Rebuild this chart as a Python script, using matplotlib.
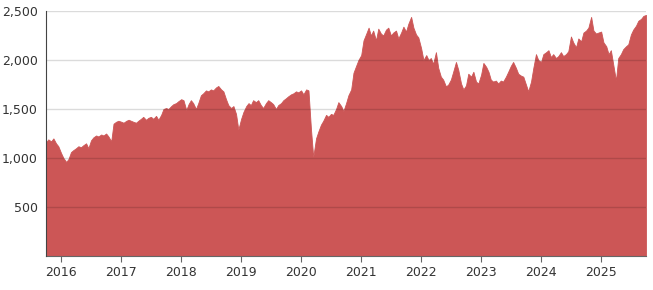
import numpy as np
import pandas as pd
import matplotlib
matplotlib.use("Agg")
import matplotlib.pyplot as plt
import matplotlib.dates as mdates
from matplotlib.ticker import FuncFormatter

# semi-monthly readings, Oct 2015 .. Oct 2025
dates = pd.date_range("2015-10-01", "2025-10-01", freq="SMS")

v2015 = [1160, 1190, 1170, 1200, 1150, 1120]
v2016 = [1050, 1000, 960, 990, 1060, 1080, 1100, 1120, 1110, 1130, 1150, 1100,
         1180, 1210, 1230, 1220, 1240, 1230, 1250, 1220, 1170, 1350, 1370, 1380]
v2017 = [1370, 1360, 1380, 1390, 1380, 1370, 1360, 1380, 1400, 1420, 1390, 1410,
         1420, 1400, 1430, 1390, 1440, 1500, 1510, 1500, 1530, 1550, 1560, 1580]
v2018 = [1600, 1590, 1490, 1550, 1590, 1560, 1500, 1560, 1640, 1660, 1690, 1680,
         1700, 1690, 1720, 1735, 1700, 1680, 1600, 1540, 1510, 1530, 1450, 1290]
v2019 = [1400, 1470, 1530, 1560, 1540, 1590, 1570, 1590, 1540, 1510, 1560, 1590,
         1570, 1550, 1500, 1540, 1560, 1590, 1610, 1630, 1650, 1660, 1680, 1670]
v2020 = [1690, 1650, 1700, 1690, 1300, 1010, 1200, 1270, 1340, 1380, 1440, 1420,
         1450, 1440, 1500, 1570, 1530, 1480, 1560, 1640, 1700, 1870, 1940, 2000]
v2021 = [2050, 2200, 2270, 2330, 2250, 2300, 2200, 2320, 2270, 2250, 2310, 2330,
         2250, 2280, 2300, 2220, 2280, 2340, 2290, 2370, 2440, 2330, 2260, 2230]
v2022 = [2120, 2000, 2050, 2000, 2020, 1960, 2080, 1920, 1830, 1800, 1730, 1750,
         1800, 1880, 1980, 1900, 1760, 1700, 1740, 1860, 1830, 1880, 1780, 1760]
v2023 = [1850, 1970, 1930, 1880, 1800, 1780, 1790, 1760, 1790, 1780, 1830, 1880,
         1940, 1980, 1920, 1860, 1840, 1830, 1750, 1680, 1780, 1920, 2060, 2000]
v2024 = [1980, 2060, 2080, 2100, 2030, 2060, 2020, 2040, 2080, 2040, 2060, 2090,
         2240, 2180, 2130, 2220, 2190, 2280, 2300, 2330, 2440, 2300, 2270, 2280]
v2025 = [2290, 2180, 2140, 2060, 2100, 1960, 1790, 2020, 2060, 2110, 2140, 2160,
         2260, 2310, 2350, 2400, 2420, 2450, 2460]

values = v2015 + v2016 + v2017 + v2018 + v2019 + v2020 + v2021 + v2022 + v2023 + v2024 + v2025
yticks = [500, 1000, 1500, 2000, 2500]

fig = plt.figure(figsize=(6.53, 2.90), dpi=100)
ax = fig.add_axes([46 / 653, 34 / 290, 600 / 653, 245 / 290])

ax.fill_between(dates, values, 0, color="#cc5656", lw=0.6, edgecolor="#cc5656", zorder=2)

ax.set_xlim(pd.Timestamp("2015-10-01"), pd.Timestamp("2025-10-01"))
ax.set_ylim(0, 2500)
ax.set_yticks(yticks)
ax.yaxis.set_major_formatter(FuncFormatter(lambda v, p: f"{int(v):,}"))
ax.xaxis.set_major_locator(mdates.YearLocator())
ax.xaxis.set_major_formatter(mdates.DateFormatter("%Y"))

for y in yticks:
    ax.axhline(y, color="black", alpha=0.14, lw=1, zorder=3)

for s in ["top", "right"]:
    ax.spines[s].set_visible(False)
ax.spines["left"].set_color("#444444")
ax.spines["bottom"].set_color("#666666")
ax.spines["left"].set_zorder(4)
ax.tick_params(axis="y", length=0, pad=6, labelsize=9, labelcolor="#333333")
ax.tick_params(axis="x", length=4, color="#666666", pad=3, labelsize=9, labelcolor="#333333")

fig.savefig("out.png", dpi=100)
